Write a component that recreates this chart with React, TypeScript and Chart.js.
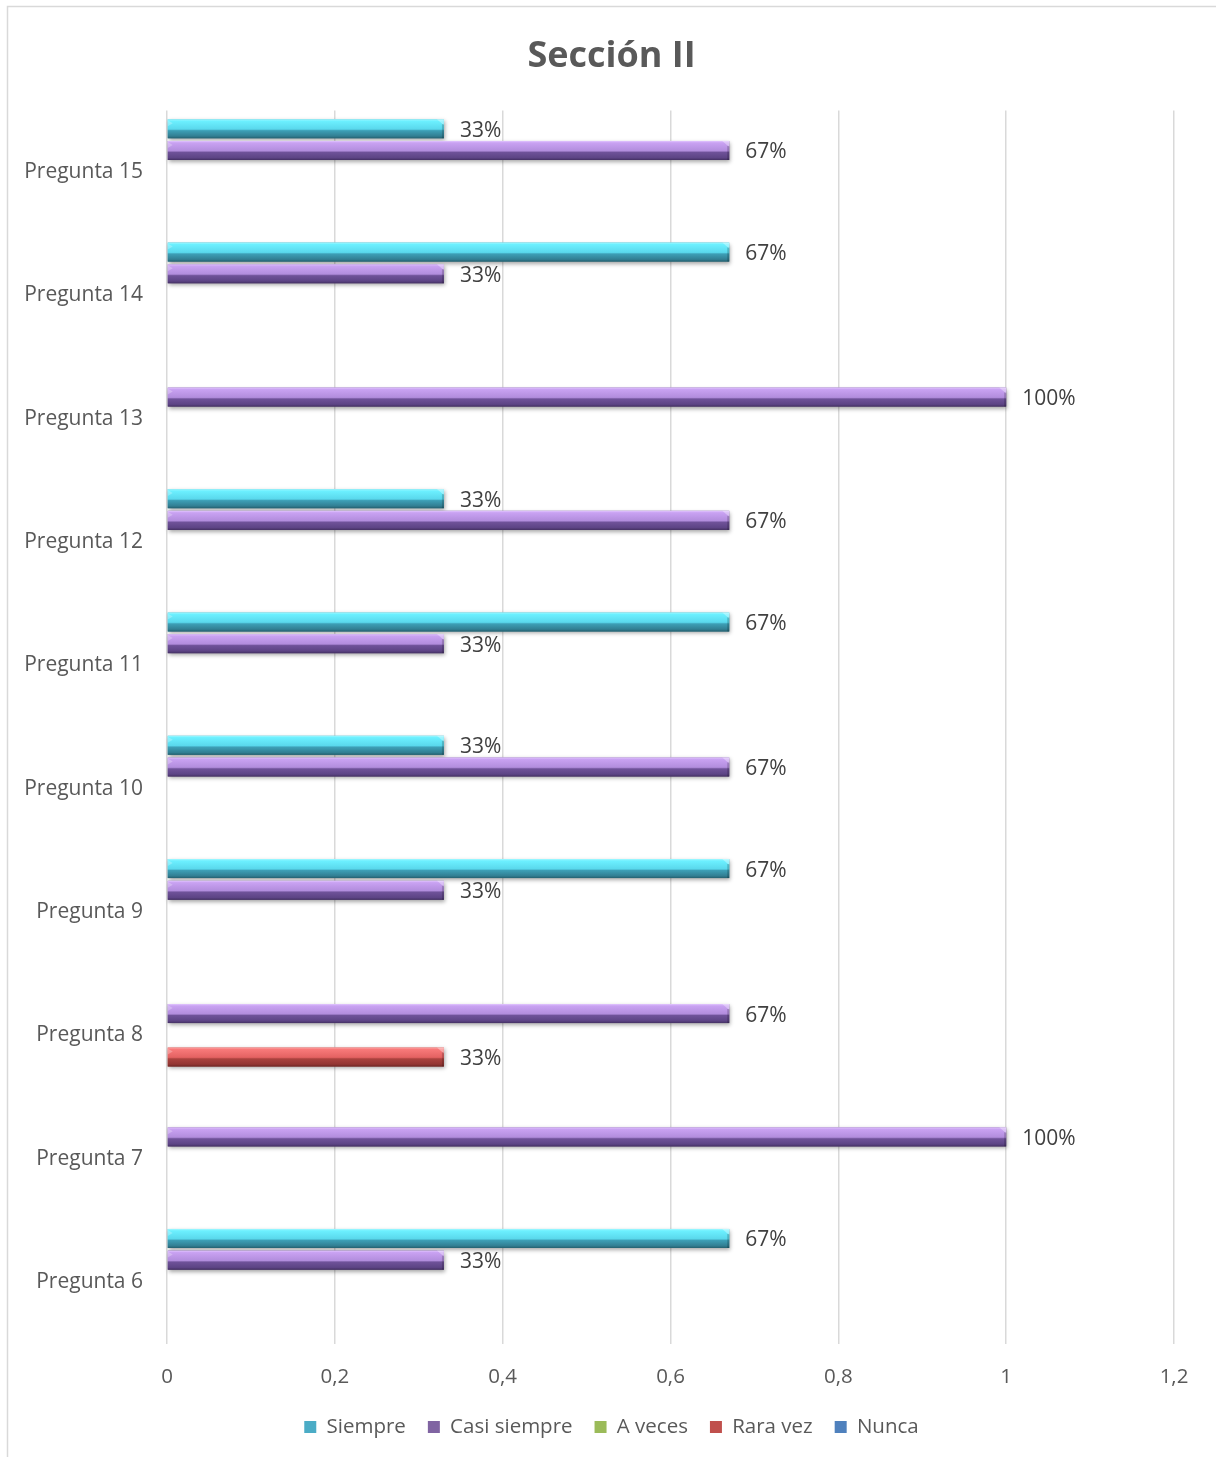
import React, { useEffect, useRef } from 'react';
import { Chart, registerables } from 'chart.js';

Chart.register(...registerables);

// ---- Data ----
const categories = [
  'Pregunta 6', 'Pregunta 7', 'Pregunta 8', 'Pregunta 9', 'Pregunta 10',
  'Pregunta 11', 'Pregunta 12', 'Pregunta 13', 'Pregunta 14', 'Pregunta 15',
];
const seriesNames = ['Siempre', 'Casi siempre', 'A veces', 'Rara vez', 'Nunca'];
const siempre = [0.67, null, null, 0.67, 0.33, 0.67, 0.33, null, 0.67, 0.33];
const casiSiempre = [0.33, 1, 0.67, 0.33, 0.67, 0.33, 0.67, 1, 0.33, 0.67];
const aVeces = [null, null, null, null, null, null, null, null, null, null];
const raraVez = [null, null, 0.33, null, null, null, null, null, null, null];
const nunca = [null, null, null, null, null, null, null, null, null, null];
const xTickLabels = ['0', '0,2', '0,4', '0,6', '0,8', '1', '1,2'];
const titleText = 'Sección II';

// ---- Styles ----
const baseColors = ['#4BACC6', '#8064A2', '#9BBB59', '#C0504D', '#4F81BD'];
const bevelStops: string[][] = [
  ['#a4f8ff', '#6cf0ff', '#5ad8ec', '#3d9fb6', '#327f93', '#24606f'],
  ['#e2c6ff', '#c9a2f2', '#b28ddd', '#6f5299', '#5d4485', '#443063'],
  ['#d8f2a2', '#b8de74', '#a4c964', '#7a9a42', '#66833a', '#4c632b'],
  ['#ffaaaa', '#f87a7a', '#e46262', '#aa423e', '#933633', '#6e2624'],
  ['#acccf6', '#7aa8e4', '#6192d2', '#3e6aa2', '#34598a', '#274367'],
];
const FONT = "'Open Sans', 'Noto Sans', sans-serif";
const TEXT_COLOR = '#595959';

const borderPlugin = {
  id: 'outerBorder',
  beforeDraw(chart: any) {
    const ctx = chart.ctx;
    ctx.save();
    ctx.fillStyle = '#ffffff';
    ctx.fillRect(0, 0, chart.width, chart.height);
    ctx.strokeStyle = '#d9d9d9';
    ctx.lineWidth = 1.5;
    ctx.strokeRect(7.5, 6.5, chart.width + 20, chart.height + 20);
    ctx.restore();
  },
};

const bevelPlugin = {
  id: 'bevelBars',
  afterDatasetsDraw(chart: any) {
    const ctx = chart.ctx;
    chart.data.datasets.forEach((ds: any, di: number) => {
      const meta = chart.getDatasetMeta(di);
      if (meta.hidden) return;
      const stops = bevelStops[di];
      meta.data.forEach((el: any, i: number) => {
        const v = ds.data[i];
        if (v == null || v === 0) return;
        const { x, y, base, height } = el.getProps(['x', 'y', 'base', 'height'], true);
        const left = Math.min(x, base);
        const right = Math.max(x, base);
        const top = y - height / 2;
        const w = right - left;
        // body with shadow
        ctx.save();
        ctx.shadowColor = 'rgba(0,0,0,0.35)';
        ctx.shadowBlur = 4;
        ctx.shadowOffsetX = 1;
        ctx.shadowOffsetY = 2;
        const g = ctx.createLinearGradient(0, top, 0, top + height);
        g.addColorStop(0, stops[0]);
        g.addColorStop(0.1, stops[1]);
        g.addColorStop(0.52, stops[2]);
        g.addColorStop(0.6, stops[3]);
        g.addColorStop(0.88, stops[4]);
        g.addColorStop(1, stops[5]);
        ctx.fillStyle = g;
        ctx.fillRect(left, top, w, height);
        ctx.restore();
        // bevel end cap
        ctx.save();
        ctx.fillStyle = 'rgba(255,255,255,0.35)';
        ctx.beginPath();
        ctx.moveTo(right - 7, top);
        ctx.lineTo(right, top);
        ctx.lineTo(right, top + 6);
        ctx.closePath();
        ctx.fill();
        ctx.fillStyle = 'rgba(0,0,0,0.18)';
        ctx.fillRect(right - 2, top + 5, 2, height - 5);
        ctx.fillStyle = 'rgba(255,255,255,0.25)';
        ctx.beginPath();
        ctx.moveTo(left, top + 1);
        ctx.lineTo(left + 5, top + 4);
        ctx.lineTo(left, top + 7);
        ctx.closePath();
        ctx.fill();
        ctx.restore();
        // data label
        ctx.save();
        ctx.fillStyle = '#404040';
        ctx.font = `21px ${FONT}`;
        ctx.textAlign = 'left';
        ctx.textBaseline = 'middle';
        ctx.fillText(Math.round(v * 100) + '%', right + 16, y + 2);
        ctx.restore();
      });
    });
  },
};

export default function App() {
  const canvasRef = useRef<HTMLCanvasElement | null>(null);

  useEffect(() => {
    const canvas = canvasRef.current;
    if (!canvas) return;
    const seriesData = [siempre, casiSiempre, aVeces, raraVez, nunca];
    const chart = new Chart(canvas, {
      type: 'bar',
      data: {
        labels: categories,
        datasets: seriesNames.map((name, i) => ({
          label: name,
          data: seriesData[i] as any,
          backgroundColor: baseColors[i],
          borderWidth: 0,
          categoryPercentage: 0.88,
          barPercentage: 0.88,
        })),
      },
      options: {
        indexAxis: 'y',
        animation: false,
        responsive: false,
        maintainAspectRatio: false,
        events: [],
        layout: { padding: { left: 7, right: 0, top: 0, bottom: 9.75 } },
        plugins: {
          title: {
            display: true,
            text: titleText,
            color: TEXT_COLOR,
            font: { family: FONT, size: 36, weight: 'bold' },
            padding: { top: 35.4, bottom: 31.9 },
          },
          legend: {
            position: 'bottom',
            labels: {
              boxWidth: 12,
              boxHeight: 12,
              padding: 22,
              color: TEXT_COLOR,
              font: { family: FONT, size: 20.5 },
            },
          },
          tooltip: { enabled: false },
        },
        scales: {
          x: {
            type: 'linear',
            min: 0,
            max: 1.2,
            ticks: {
              stepSize: 0.2,
              color: TEXT_COLOR,
              font: { family: FONT, size: 20.5 },
              padding: 21,
              callback: (_v: any, idx: number) => xTickLabels[idx],
            },
            grid: { color: '#d9d9d9', lineWidth: 1.5, drawTicks: false },
            border: { display: false },
            afterFit: (s: any) => { s.height = 51.25; },
          },
          y: {
            type: 'category',
            reverse: true,
            grid: { display: false, drawTicks: false },
            border: { display: false },
            ticks: {
              color: TEXT_COLOR,
              font: { family: FONT, size: 21 },
              padding: 24,
            },
            afterFit: (s: any) => { s.width = 160; },
          },
          y2: {
            type: 'linear',
            position: 'right',
            display: true,
            grid: { display: false, drawTicks: false },
            border: { display: false },
            ticks: { display: false },
            afterFit: (s: any) => { s.width = 42; },
          },
        },
      } as any,
      plugins: [borderPlugin, bevelPlugin],
    });
    return () => chart.destroy();
  }, []);

  return (
    <div style={{ position: 'absolute', left: 0, top: 0, width: 1216, height: 1457, overflow: 'hidden', background: '#fff' }}>
      <canvas ref={canvasRef} width={1216} height={1457} style={{ display: 'block', width: 1216, height: 1457 }} />
    </div>
  );
}
